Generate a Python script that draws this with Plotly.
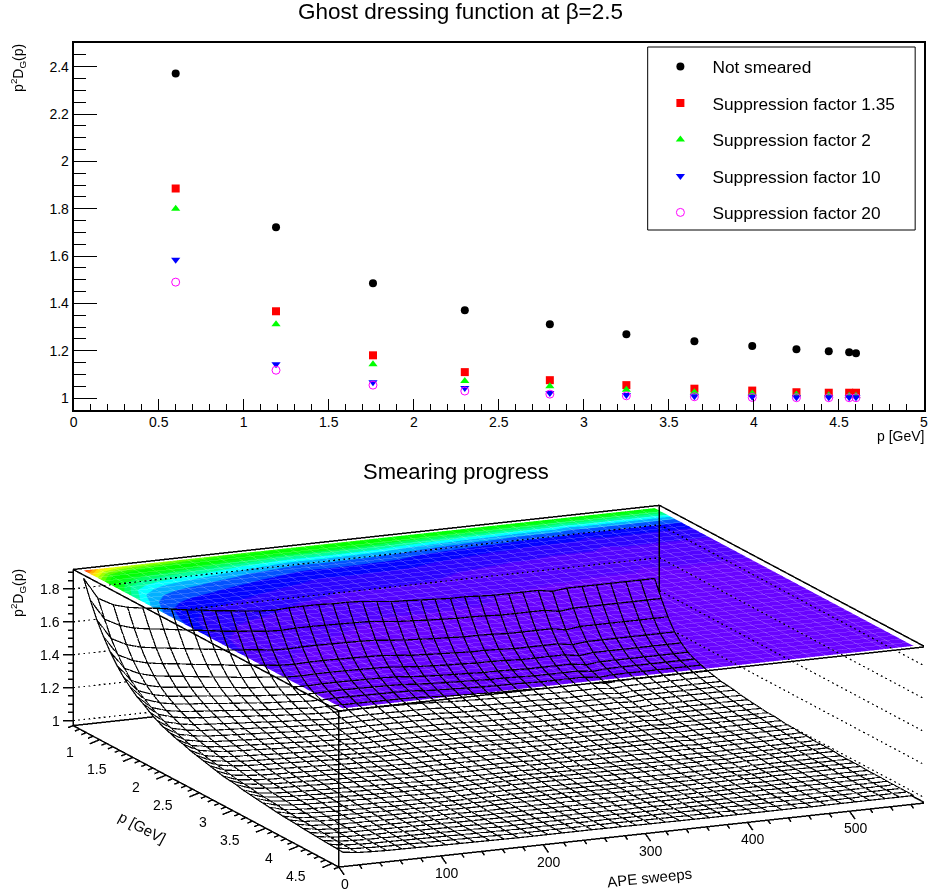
import plotly.graph_objects as go

FONT = "Liberation Sans"
p_points = [0.6, 1.19, 1.76, 2.3, 2.8, 3.25, 3.65, 3.99, 4.25, 4.44, 4.56, 4.6]
not_smeared = [2.371, 1.722, 1.485, 1.371, 1.312, 1.27, 1.24, 1.22, 1.207, 1.198, 1.194, 1.19]
factor_135 = [1.886, 1.367, 1.181, 1.11, 1.076, 1.055, 1.04, 1.032, 1.025, 1.023, 1.023, 1.023]
factor_2 = [1.80, 1.312, 1.143, 1.072, 1.05, 1.035, 1.025, 1.02, 1.015, 1.012, 1.01, 1.01]
factor_10 = [1.585, 1.143, 1.067, 1.043, 1.022, 1.013, 1.008, 1.006, 1.004, 1.004, 1.004, 1.004]
factor_20 = [1.49, 1.118, 1.055, 1.03, 1.017, 1.01, 1.006, 1.003, 1.002, 1.002, 1.002, 1.002]

# Surface: bin centres in p (rows) and APE sweeps (columns); cell values are (height - 1) * 1000
surf_p = [0.65, 0.75, 0.85, 0.95, 1.05, 1.15, 1.25, 1.35, 1.45, 1.55, 1.65, 1.75, 1.85, 1.95, 2.05, 2.15, 2.25, 2.35, 2.45, 2.55,
          2.65, 2.75, 2.85, 2.95, 3.05, 3.15, 3.25, 3.35, 3.45, 3.55, 3.65, 3.75, 3.85, 3.95, 4.05, 4.15, 4.25, 4.35, 4.45, 4.55]
surf_s = [7, 21, 36, 50, 65, 79, 93, 108, 122, 136, 151, 165, 179, 194, 208, 222, 237, 251, 265, 280,
          294, 308, 323, 337, 351, 366, 380, 394, 409, 423, 437, 452, 466, 480, 495, 509, 523, 538, 552, 566]
surf_milli = [
 [870,740,690,665,650,640,625,610,600,585,575,565,555,550,555,555,555,550,550,545,535,525,520,515,510,505,505,500,495,495,495,495,480,490,490,490,490,490,490,490],
 [760,634,586,560,545,534,521,508,497,483,473,464,453,449,453,453,451,449,447,444,434,425,420,414,410,405,405,401,396,396,396,396,379,390,390,390,390,390,390,390],
 [660,538,491,466,451,440,428,415,404,390,381,372,361,358,361,361,359,358,356,352,343,334,329,323,320,314,314,311,305,305,305,305,289,300,300,300,300,300,300,300],
 [580,461,415,391,377,367,354,342,332,318,309,300,290,286,290,290,288,286,284,281,272,263,258,253,249,244,244,241,235,235,235,235,220,230,230,230,230,230,230,230],
 [510,400,357,335,322,312,300,289,279,266,258,250,240,237,240,240,239,237,235,232,224,216,211,206,203,198,198,195,190,190,190,190,175,185,185,185,185,185,185,185],
 [450,348,309,288,276,267,257,246,237,225,218,210,201,198,201,201,200,198,197,194,186,179,174,170,167,162,162,159,155,155,155,155,141,150,150,150,150,150,150,150],
 [400,308,273,254,243,235,226,216,208,198,191,184,176,173,176,176,175,173,172,169,162,156,152,148,145,141,141,138,134,134,134,134,122,130,130,130,130,130,130,130],
 [360,277,245,228,218,211,202,193,186,176,170,164,157,154,157,157,155,154,153,151,144,138,135,131,128,125,125,122,119,119,119,119,108,115,115,115,115,115,115,115],
 [325,249,219,204,195,188,180,172,165,156,151,145,138,136,138,138,137,136,135,133,127,121,118,115,112,109,109,107,103,103,103,103,93,100,100,100,100,100,100,100],
 [300,229,201,187,178,172,165,157,151,143,137,132,126,124,126,126,125,124,123,120,115,110,107,104,102,98,98,96,93,93,93,93,84,90,90,90,90,90,90,90],
 [270,205,181,167,160,154,147,141,135,128,123,118,112,110,112,112,111,110,109,108,103,98,95,92,90,88,88,86,83,83,83,83,74,80,80,80,80,80,80,80],
 [245,187,165,153,146,141,135,129,124,118,113,109,104,102,104,104,103,102,101,100,95,91,89,86,84,82,82,80,78,78,78,78,70,75,75,75,75,75,75,75],
 [225,172,152,141,135,130,125,120,115,109,105,101,96,95,96,96,96,95,94,92,89,85,82,80,79,76,76,75,72,72,72,72,65,70,70,70,70,70,70,70],
 [210,159,140,129,123,119,113,108,104,98,94,90,86,84,86,86,85,84,83,82,78,74,72,70,68,66,66,65,62,62,62,62,56,60,60,60,60,60,60,60],
 [195,147,129,119,114,110,105,100,96,90,87,83,79,77,79,79,78,77,77,75,72,68,66,64,63,61,61,59,57,57,57,57,51,55,55,55,55,55,55,55],
 [185,139,122,112,107,103,98,93,89,84,80,77,73,72,73,73,72,72,71,70,66,63,61,59,57,55,55,54,52,52,52,52,46,50,50,50,50,50,50,50],
 [170,128,111,103,98,94,89,85,81,76,73,70,66,65,66,66,66,65,64,63,60,57,55,53,52,50,50,49,47,47,47,47,41,45,45,45,45,45,45,45],
 [160,119,104,95,90,87,83,78,75,70,67,64,60,59,60,60,60,59,59,57,54,51,50,48,47,45,45,44,42,42,42,42,36,40,40,40,40,40,40,40],
 [150,113,98,91,86,83,79,75,72,68,65,62,59,58,59,59,58,58,57,56,53,50,49,47,46,44,44,43,42,42,42,42,37,40,40,40,40,40,40,40],
 [140,104,91,83,79,76,72,69,65,61,59,56,53,52,53,53,52,52,51,50,48,45,43,42,41,39,39,38,37,37,37,37,32,35,35,35,35,35,35,35],
 [130,96,83,76,72,69,66,62,59,55,53,50,47,46,47,47,46,46,45,44,42,39,38,36,35,34,34,33,31,31,31,31,27,30,30,30,30,30,30,30],
 [120,89,78,71,68,65,62,59,56,52,50,48,45,44,45,45,45,44,44,43,41,38,37,36,35,34,34,33,31,31,31,31,27,30,30,30,30,30,30,30],
 [115,84,73,66,63,60,57,54,51,47,45,43,40,39,40,40,40,39,39,38,36,33,32,31,30,29,29,28,26,26,26,26,22,25,25,25,25,25,25,25],
 [110,81,70,64,61,58,55,52,50,46,44,42,39,39,39,39,39,39,38,37,35,33,32,31,30,28,28,28,26,26,26,26,22,25,25,25,25,25,25,25],
 [100,73,62,57,54,51,48,46,43,40,38,36,34,33,34,34,33,33,32,32,30,28,26,25,24,23,23,22,21,21,21,21,18,20,20,20,20,20,20,20],
 [95,70,60,55,52,49,47,44,42,39,37,35,33,32,33,33,32,32,32,31,29,27,26,25,24,23,23,22,21,21,21,21,18,20,20,20,20,20,20,20],
 [90,66,57,52,49,47,45,42,40,38,36,34,32,31,32,32,32,31,31,30,28,27,26,25,24,23,23,22,21,21,21,21,18,20,20,20,20,20,20,20],
 [85,63,54,50,47,45,43,41,39,36,35,33,31,30,31,31,31,30,30,29,28,26,25,24,24,23,23,22,21,21,21,21,18,20,20,20,20,20,20,20],
 [80,58,49,45,42,40,38,36,34,31,30,28,26,25,26,26,26,25,25,24,23,21,20,19,19,18,18,17,16,16,16,16,13,15,15,15,15,15,15,15],
 [75,55,47,43,40,38,36,34,32,30,29,27,25,25,25,25,25,25,24,24,22,21,20,19,18,17,17,17,16,16,16,16,13,15,15,15,15,15,15,15],
 [70,51,44,40,38,36,35,33,31,29,27,26,24,24,24,24,24,24,24,23,22,20,19,19,18,17,17,17,16,16,16,16,13,15,15,15,15,15,15,15],
 [68,50,43,39,37,36,34,32,30,28,27,26,24,23,24,24,24,23,23,23,21,20,19,18,18,17,17,17,16,16,16,16,13,15,15,15,15,15,15,15],
 [65,47,40,36,34,33,31,29,27,25,24,23,21,20,21,21,21,20,20,20,18,17,16,15,15,14,14,14,13,13,13,13,10,12,12,12,12,12,12,12],
 [60,44,37,34,32,31,29,27,26,24,23,22,20,20,20,20,20,20,19,19,18,17,16,15,15,14,14,13,13,13,13,13,11,12,12,12,12,12,12,12],
 [58,42,36,33,31,30,28,27,25,24,22,21,20,19,20,20,20,19,19,19,18,16,16,15,15,14,14,13,13,13,13,13,11,12,12,12,12,12,12,12],
 [55,40,34,31,29,28,26,24,23,21,20,19,18,17,18,18,17,17,17,17,15,14,14,13,12,12,12,11,11,11,11,11,9,10,10,10,10,10,10,10],
 [52,38,32,29,28,26,25,23,22,20,19,18,17,17,17,17,17,17,17,16,15,14,13,13,12,12,12,11,11,11,11,11,9,10,10,10,10,10,10,10],
 [50,36,31,28,27,26,24,23,22,20,19,18,17,16,17,17,17,16,16,16,15,14,13,13,12,12,12,11,11,11,11,11,9,10,10,10,10,10,10,10],
 [48,35,30,27,26,25,23,22,21,20,19,18,16,16,16,16,16,16,16,16,15,14,13,12,12,12,12,11,11,11,11,11,9,10,10,10,10,10,10,10],
 [45,33,29,26,25,24,22,21,20,19,18,17,16,16,16,16,16,16,15,15,14,13,13,12,12,11,11,11,11,11,11,11,9,10,10,10,10,10,10,10],
]
band_colors = ["#6600ff", "#5000ff", "#2800ff", "#0000ff", "#0050ff", "#00b0ff", "#00ffff", "#00ffa0",
               "#00ff60", "#00ff20", "#00ff00", "#00ff00", "#20ff00", "#60ff00", "#a0ff00", "#e0ff00",
               "#ffe000", "#ffb000", "#ff7000", "#ff3000"]
z_ticks = [1, 1.2, 1.4, 1.6, 1.8]
z_minor = [1.05, 1.1, 1.15, 1.25, 1.3, 1.35, 1.45, 1.5, 1.55, 1.65, 1.7, 1.75, 1.85, 1.9]
p_ticks = [1, 1.5, 2, 2.5, 3, 3.5, 4, 4.5]
p_minor = [0.6, 0.7, 0.8, 0.9, 1.1, 1.2, 1.3, 1.4, 1.6, 1.7, 1.8, 1.9, 2.1, 2.2, 2.3, 2.4, 2.6, 2.7, 2.8, 2.9,
           3.1, 3.2, 3.3, 3.4, 3.6, 3.7, 3.8, 3.9, 4.1, 4.2, 4.3, 4.4, 4.6]
s_ticks = [0, 100, 200, 300, 400, 500]
s_minor = [20, 40, 60, 80, 120, 140, 160, 180, 220, 240, 260, 280, 320, 340, 360, 380, 420, 440, 460, 480, 520, 540, 560]
P0, P1, S0, S1, Z0, Z1 = 0.6, 4.6, 0.0, 574.0, 0.97, 1.918

surf_z = [[1 + v / 1000 for v in row] for row in surf_milli]
top_z = [[Z1 for v in row] for row in surf_milli]
# Plotly surfaces index z as [y][x], with p on x and sweeps on y
surf_z_t = [list(c) for c in zip(*surf_z)]

fig = go.Figure()
series = [("Not smeared", not_smeared, "circle", "black"),
          ("Suppression factor 1.35", factor_135, "square", "red"),
          ("Suppression factor 2", factor_2, "triangle-up", "#00ff00"),
          ("Suppression factor 10", factor_10, "triangle-down", "blue"),
          ("Suppression factor 20", factor_20, "circle-open", "#ff00ff")]
for i, (n, v, s, c) in enumerate(series):
    fig.add_trace(go.Scatter(x=p_points, y=v, name=n, mode="markers", legendgroup=str(i),
                             marker=dict(symbol=s, color=c, size=8, line=dict(width=1 if s == "circle-open" else 0, color=c)),
                             hoverinfo="skip"))

H = 896.0
W = 928.0
cs = []
n = len(band_colors)
for i, c in enumerate(band_colors):
    cs += [[i / n, c], [(i + 1) / n, c]]
flat = dict(ambient=1, diffuse=0, specular=0, roughness=1, fresnel=0)
fig.add_trace(go.Surface(x=surf_p, y=surf_s, z=surf_z_t, showscale=False, colorscale=[[0, "white"], [1, "white"]],
                         lighting=flat, hoverinfo="skip", scene="scene"))
fig.add_trace(go.Surface(x=surf_p, y=surf_s, z=top_z, surfacecolor=surf_z_t, cmin=1.01, cmax=1.87,
                         colorscale=cs, showscale=False, opacity=0.99, lighting=flat, hoverinfo="skip", scene="scene"))


def mesh(z, dp=0.0, ds=0.0, dz=0.0):
    xs, ys, zs = [], [], []
    for i, p in enumerate(surf_p):
        xs += [p + dp] * len(surf_s) + [None]
        ys += [s + ds for s in surf_s] + [None]
        zs += [v + dz for v in z[i]] + [None]
    for j, s in enumerate(surf_s):
        xs += [p + dp for p in surf_p] + [None]
        ys += [s + ds] * len(surf_p) + [None]
        zs += [z[i][j] + dz for i in range(len(surf_p))] + [None]
    return xs, ys, zs


def line3(lst, color, width, op=0.99):
    xs, ys, zs = [], [], []
    for a, b in lst:
        xs += [a[0], b[0], None]
        ys += [a[1], b[1], None]
        zs += [a[2], b[2], None]
    fig.add_trace(go.Scatter3d(x=xs, y=ys, z=zs, mode="lines", opacity=op,
                               line=dict(color=color, width=width),
                               hoverinfo="skip", showlegend=False, scene="scene"))


x, y, z = mesh(top_z)
fig.add_trace(go.Scatter3d(x=x, y=y, z=z, mode="lines", opacity=0.3, line=dict(color="white", width=1),
                           hoverinfo="skip", showlegend=False, scene="scene"))

dots = []
for t in z_ticks:
    for k in range(115):
        a = S0 + (S1 - S0) * k / 115
        dots.append(((P0, a, t), (P0, a + (S1 - S0) * 0.35 / 115, t)))
    for k in range(60):
        a = P0 + (P1 - P0) * k / 60
        dots.append(((a, S1, t), (a + (P1 - P0) * 0.35 / 60, S1, t)))
line3(dots, "black", 2.5)

x, y, z = mesh(surf_z, 0.037, -2.4, 0.0096)
fig.add_trace(go.Scatter3d(x=x, y=y, z=z, mode="lines", opacity=0.99, line=dict(color="black", width=2.5),
                           hoverinfo="skip", showlegend=False, scene="scene"))

box = [((P0, S0, Z0), (P0, S0, Z1)), ((P1, S0, Z0), (P1, S0, Z1)), ((P1, S1, Z0), (P1, S1, Z1)), ((P0, S1, Z0), (P0, S1, Z1)),
       ((P0, S0, Z1), (P1, S0, Z1)), ((P1, S0, Z1), (P1, S1, Z1)), ((P1, S1, Z1), (P0, S1, Z1)), ((P0, S1, Z1), (P0, S0, Z1)),
       ((P0, S0, Z0), (P1, S0, Z0)), ((P1, S0, Z0), (P1, S1, Z0)), ((P1, S1, Z0), (P0, S1, Z0)), ((P0, S1, Z0), (P0, S0, Z0))]
ticks = []
for t in z_ticks:
    ticks.append(((P0, S0, t), (P0 - 0.0256, S0 - 8.14, t)))
for t in z_minor:
    ticks.append(((P0, S0, t), (P0 - 0.0128, S0 - 4.07, t)))
for t in p_ticks:
    ticks.append(((t, S0, Z0), (t, S0 - 9.8, Z0 - 0.018)))
for t in p_minor:
    ticks.append(((t, S0, Z0), (t, S0 - 4.9, Z0 - 0.009)))
for t in s_ticks:
    ticks.append(((P1, t, Z0), (P1 + 0.08, t, Z0 - 0.03)))
for t in s_minor:
    ticks.append(((P1, t, Z0), (P1 + 0.04, t, Z0 - 0.015)))
line3(box + ticks, "black", 3)

tf = dict(family=FONT, size=14, color="black")
ann = []
for t in z_ticks:
    ann.append(dict(x=P0, y=S0, z=t, text=str(t), showarrow=False, xanchor="right", xshift=-11, font=tf))
for t in p_ticks:
    ann.append(dict(x=t, y=S0, z=Z0, text=str(t), showarrow=False, xanchor="right", xshift=-24, yshift=-12, font=tf))
for t in s_ticks:
    ann.append(dict(x=P1, y=t, z=Z0, text=str(t), showarrow=False, xshift=6, yshift=-17, font=tf))


def note(px, py, text, size=14, anchor="center", angle=0):
    return dict(x=px / W, y=1 - py / H, xref="paper", yref="paper", showarrow=False, text=text, textangle=angle,
                xanchor=anchor, yanchor="middle", font=dict(family=FONT, size=size, color="black"))


axis_common = dict(showline=True, linecolor="black", linewidth=2, mirror=True, showgrid=False, zeroline=False,
                   ticks="inside", tickcolor="black", tickfont=tf, ticklabeloverflow="allow")
fig.update_layout(
    width=928, height=896, margin=dict(l=0, r=0, t=0, b=0), paper_bgcolor="white", plot_bgcolor="white",
    xaxis=dict(domain=[70.25 / W, 1.0], range=[0, 5], dtick=0.5, ticklen=11, ticklabelstandoff=-2,
               minor=dict(dtick=0.1, ticks="inside", ticklen=6, tickcolor="black"), **axis_common),
    yaxis=dict(domain=[1 - 410 / H, 1 - 43 / H], range=[0.95, 2.5], dtick=0.2, tick0=1, ticklen=23,
               minor=dict(dtick=0.05, ticks="inside", ticklen=12, tickcolor="black"), **axis_common),
    legend=dict(x=650 / W, y=1 - 48.7 / H, xanchor="left", yanchor="top", borderwidth=0, bgcolor="rgba(0,0,0,0)",
                font=dict(family=FONT, size=17.3, color="black"), itemwidth=54, tracegroupgap=11, itemsizing="trace"),
    shapes=[dict(type="rect", xref="paper", yref="paper", x0=(648 - 3.07) / 0.9933 / W, x1=(916 - 3.07) / 0.9933 / W,
                 y0=1 - 47 / H, y1=1 - 230 / H, line=dict(color="black", width=1), fillcolor="white", layer="below")],
    scene=dict(domain=dict(x=[0, 1], y=[0, 1]),
               xaxis=dict(visible=False, range=[0.2, 5.0]),
               yaxis=dict(visible=False, range=[-40, 614]),
               zaxis=dict(visible=False, range=[0.93, 1.958]),
               aspectmode="manual", aspectratio=dict(x=1.7244, y=1.6372, z=0.3894),
               camera=dict(projection=dict(type="orthographic"), up=dict(x=0, y=0, z=1),
                           center=dict(x=-0.1493, y=-0.0185, z=0.5160),
                           eye=dict(x=1.075, y=-0.5733, z=0.8502)),
               annotations=ann, bgcolor="rgba(0,0,0,0)"),
    annotations=[
        note(460, 12, "Ghost dressing function at β=2.5", 22.5),
        note(456, 471, "Smearing progress", 22),
        note(930, 436, "p [GeV]", 14, "right"),
        note(14, 68, "p<sup>2</sup>D<sub>G</sub>(p)", 14, angle=-90),
        note(14, 593, "p<sup>2</sup>D<sub>G</sub>(p)", 14, angle=-90),
        note(140, 827, "p [GeV]", 15, angle=28),
        note(651, 877, "APE sweeps", 15, angle=-6),
    ],
)
fig.write_html("out.html", config=dict(displayModeBar=False),
               post_script="document.body.style.margin='0';window.dispatchEvent(new Event('resize'));")
